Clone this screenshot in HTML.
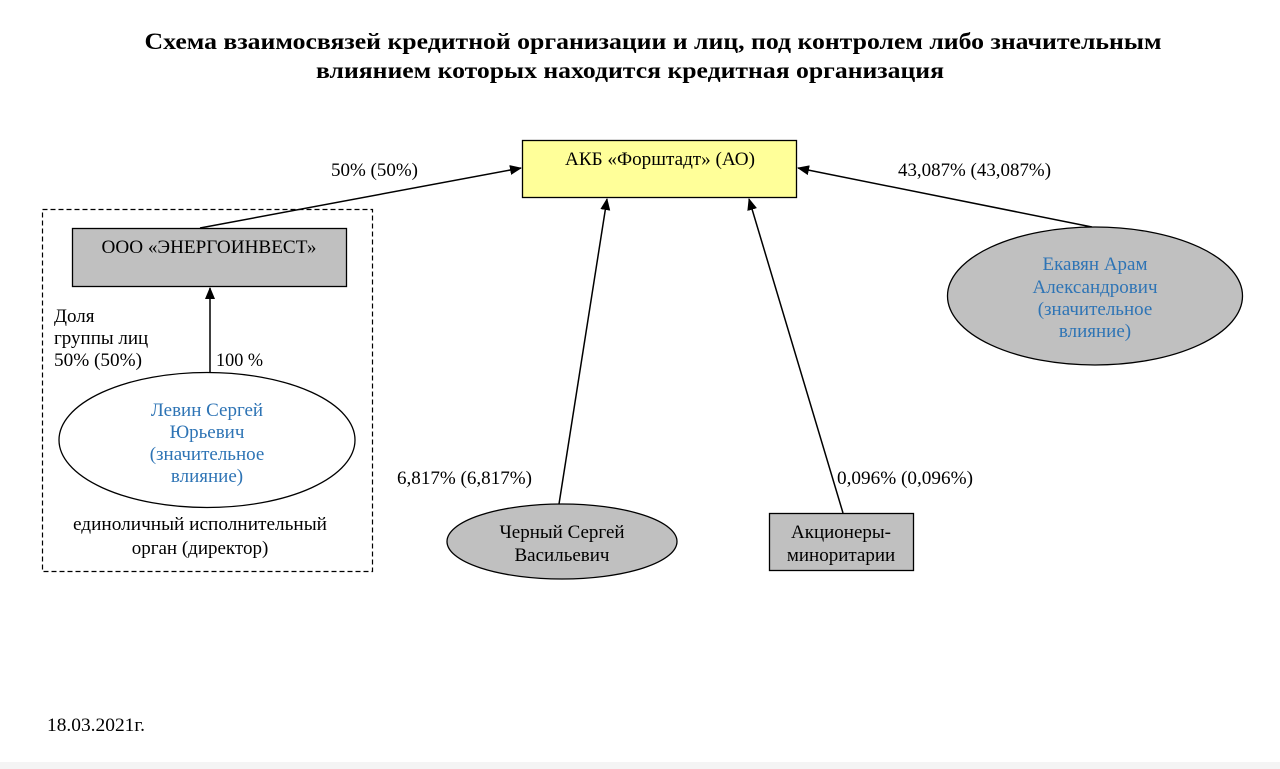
<!DOCTYPE html>
<html><head><meta charset="utf-8"><style>
html,body{margin:0;padding:0;background:#fff;}
svg{display:block;}
text{font-family:"Liberation Serif","Noto Serif CJK SC",serif;font-size:19px;fill:#000;}
.b{fill:#2e74b5;}
.t{font-weight:bold;font-size:23px;}
</style></head><body>
<svg width="1280" height="769" viewBox="0 0 1280 769" xmlns="http://www.w3.org/2000/svg">
<defs>
<marker id="a" markerWidth="12" markerHeight="10" refX="11" refY="5" orient="auto" markerUnits="userSpaceOnUse">
<path d="M0,0 L12,5 L0,10 z" fill="#000"/>
</marker>
</defs>
<rect x="0" y="762" width="1280" height="7" fill="#f4f4f4"/>
<text class="t" x="653" y="49" text-anchor="middle" textLength="1017" lengthAdjust="spacingAndGlyphs">Схема взаимосвязей кредитной организации и лиц, под контролем либо значительным</text>
<text class="t" x="630" y="78" text-anchor="middle" textLength="628" lengthAdjust="spacingAndGlyphs">влиянием которых находится кредитная организация</text>

<!-- AKB -->
<rect x="522.5" y="140.5" width="274" height="57" fill="#ffff99" stroke="#000" stroke-width="1.3"/>
<text x="660" y="165" text-anchor="middle" textLength="190" lengthAdjust="spacingAndGlyphs">АКБ «Форштадт» (АО)</text>

<!-- dashed group -->
<rect x="42.5" y="209.5" width="330" height="362" fill="none" stroke="#000" stroke-width="1.2" stroke-dasharray="5,3"/>

<!-- OOO -->
<rect x="72.5" y="228.5" width="274" height="58" fill="#c0c0c0" stroke="#000" stroke-width="1.3"/>
<text x="209" y="253" text-anchor="middle" textLength="215" lengthAdjust="spacingAndGlyphs">ООО «ЭНЕРГОИНВЕСТ»</text>

<text x="54" y="322">Доля</text>
<text x="54" y="344">группы лиц</text>
<text x="54" y="366" textLength="88" lengthAdjust="spacingAndGlyphs">50% (50%)</text>
<text x="216" y="366" textLength="47" lengthAdjust="spacingAndGlyphs">100 %</text>

<!-- Levin -->
<ellipse cx="207" cy="440" rx="148" ry="67.5" fill="#fff" stroke="#000" stroke-width="1.3"/>
<text class="b" x="207" y="416" text-anchor="middle">Левин Сергей</text>
<text class="b" x="207" y="438" text-anchor="middle">Юрьевич</text>
<text class="b" x="207" y="460" text-anchor="middle">(значительное</text>
<text class="b" x="207" y="482" text-anchor="middle">влияние)</text>
<text x="200" y="530" text-anchor="middle" textLength="254" lengthAdjust="spacingAndGlyphs">единоличный исполнительный</text>
<text x="200" y="554" text-anchor="middle">орган (директор)</text>

<line x1="210" y1="373" x2="210" y2="288" stroke="#000" stroke-width="1.5" marker-end="url(#a)"/>

<!-- connectors to AKB -->
<line x1="200" y1="228" x2="521" y2="168" stroke="#000" stroke-width="1.5" marker-end="url(#a)"/>
<text x="331" y="176" textLength="87" lengthAdjust="spacingAndGlyphs">50% (50%)</text>

<line x1="1092" y1="227" x2="798" y2="168" stroke="#000" stroke-width="1.5" marker-end="url(#a)"/>
<text x="898" y="176" textLength="153" lengthAdjust="spacingAndGlyphs">43,087% (43,087%)</text>

<line x1="559" y1="504" x2="607" y2="199" stroke="#000" stroke-width="1.5" marker-end="url(#a)"/>
<text x="397" y="484" textLength="135" lengthAdjust="spacingAndGlyphs">6,817% (6,817%)</text>

<line x1="843" y1="513" x2="749" y2="199" stroke="#000" stroke-width="1.5" marker-end="url(#a)"/>
<text x="837" y="484" textLength="136" lengthAdjust="spacingAndGlyphs">0,096% (0,096%)</text>

<!-- Ekavyan -->
<ellipse cx="1095" cy="296" rx="147.5" ry="69" fill="#c0c0c0" stroke="#000" stroke-width="1.3"/>
<text class="b" x="1095" y="270" text-anchor="middle">Екавян Арам</text>
<text class="b" x="1095" y="293" text-anchor="middle">Александрович</text>
<text class="b" x="1095" y="315" text-anchor="middle">(значительное</text>
<text class="b" x="1095" y="337" text-anchor="middle">влияние)</text>

<!-- Cherny -->
<ellipse cx="562" cy="541.5" rx="115" ry="37.5" fill="#c0c0c0" stroke="#000" stroke-width="1.3"/>
<text x="562" y="538" text-anchor="middle">Черный Сергей</text>
<text x="562" y="561" text-anchor="middle">Васильевич</text>

<!-- Minor -->
<rect x="769.5" y="513.5" width="144" height="57" fill="#c0c0c0" stroke="#000" stroke-width="1.3"/>
<text x="841" y="538" text-anchor="middle">Акционеры-</text>
<text x="841" y="561" text-anchor="middle">миноритарии</text>

<text x="47" y="731" textLength="98" lengthAdjust="spacingAndGlyphs">18.03.2021г.</text>
</svg>
</body></html>
